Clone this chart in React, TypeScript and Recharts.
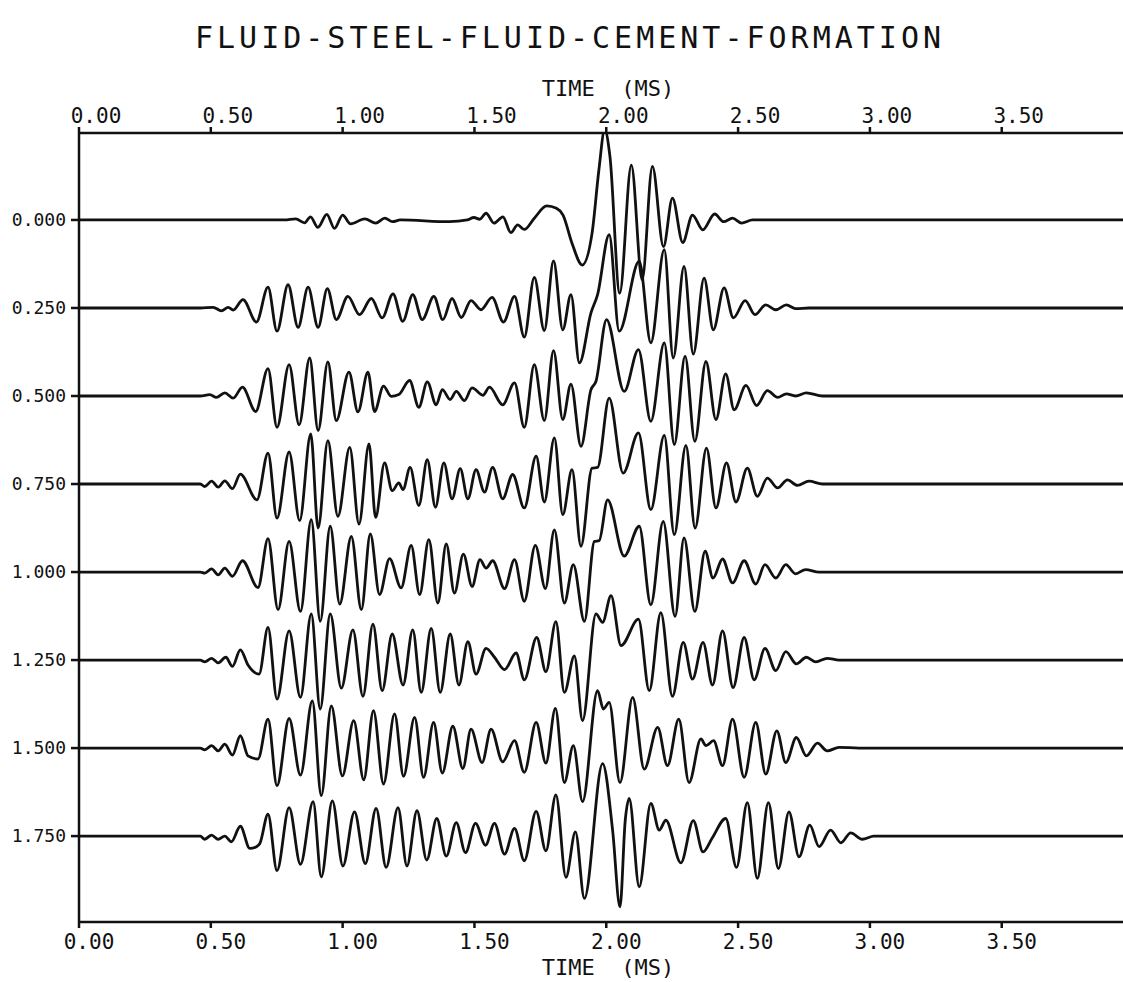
import React from "react";
import { LineChart, Line, XAxis, YAxis } from "recharts";

const MONO = "'DejaVu Sans Mono', 'Liberation Mono', monospace";
const INK = "#111";
const T_END = 3.96;

const xTicks = [0, 0.5, 1, 1.5, 2, 2.5, 3, 3.5];
const offsets = [0, 0.25, 0.5, 0.75, 1.0, 1.25, 1.5, 1.75];

// [time ms, upward displacement in axis units]
const trace0 = [
  [0.78, 0], [0.822, 0.003], [0.856, -0.008], [0.878, 0.009], [0.906, -0.021], [0.94, 0.016],
  [0.969, -0.024], [1.0, 0.014], [1.03, -0.011], [1.084, 0.003], [1.126, -0.009], [1.16, 0.005],
  [1.189, -0.005], [1.219, 0], [1.405, -0.005], [1.473, 0], [1.498, 0.007], [1.52, 0.002],
  [1.544, 0.019], [1.574, -0.009], [1.608, 0.009], [1.638, -0.036], [1.664, -0.014], [1.689, -0.027],
  [1.727, 0.005], [1.774, 0.04], [1.811, 0.033], [1.836, 0.014], [1.87, -0.066], [1.909, -0.128],
  [1.946, -0.038], [1.972, 0.142], [1.994, 0.256], [2.014, 0.18], [2.051, -0.208], [2.095, 0.156],
  [2.136, -0.17], [2.175, 0.152], [2.217, -0.076], [2.251, 0.062], [2.29, -0.064], [2.327, 0.014],
  [2.366, -0.028], [2.411, 0.017], [2.445, -0.005], [2.479, 0.005], [2.513, -0.009], [2.555, 0],
];

const trace1 = [
  [0.46, 0], [0.509, 0.002], [0.54, -0.008], [0.566, 0.002], [0.585, -0.006], [0.622, 0.024],
  [0.673, -0.04], [0.717, 0.059], [0.751, -0.066], [0.793, 0.066], [0.831, -0.055], [0.869, 0.059],
  [0.907, -0.055], [0.942, 0.055], [0.976, -0.033], [1.02, 0.033], [1.064, -0.019], [1.109, 0.027],
  [1.15, -0.028], [1.191, 0.04], [1.228, -0.038], [1.266, 0.038], [1.302, -0.033], [1.346, 0.033],
  [1.38, -0.033], [1.415, 0.027], [1.45, -0.027], [1.487, 0.021], [1.525, -0.005], [1.567, 0.03],
  [1.61, -0.04], [1.652, 0.033], [1.689, -0.083], [1.727, 0.087], [1.765, -0.064], [1.8, 0.134],
  [1.835, -0.062], [1.866, 0.038], [1.898, -0.156], [1.942, -0.014], [1.967, 0.038], [2.011, 0.208],
  [2.049, -0.066], [2.125, 0.133], [2.169, -0.099], [2.22, 0.166], [2.254, -0.142], [2.295, 0.118],
  [2.33, -0.131], [2.371, 0.085], [2.406, -0.062], [2.447, 0.057], [2.482, -0.028], [2.527, 0.021],
  [2.564, -0.019], [2.605, 0.009], [2.643, -0.005], [2.683, 0.009], [2.718, -0.002], [2.769, 0],
];

const trace2 = [
  [0.46, 0], [0.496, 0.004], [0.521, -0.004], [0.553, 0.009], [0.585, -0.006], [0.62, 0.025],
  [0.67, -0.044], [0.717, 0.078], [0.751, -0.089], [0.797, 0.089], [0.835, -0.082], [0.875, 0.108],
  [0.907, -0.098], [0.944, 0.097], [0.976, -0.07], [1.024, 0.068], [1.058, -0.045], [1.096, 0.068],
  [1.121, -0.044], [1.155, 0.028], [1.184, -0.001], [1.213, 0.004], [1.254, 0.044], [1.289, -0.032],
  [1.321, 0.04], [1.355, -0.025], [1.378, 0.018], [1.408, -0.01], [1.431, 0.013], [1.462, -0.013],
  [1.491, 0.023], [1.532, 0.002], [1.557, 0.025], [1.607, -0.025], [1.652, 0.037], [1.689, -0.089],
  [1.727, 0.089], [1.765, -0.07], [1.8, 0.129], [1.835, -0.067], [1.866, 0.034], [1.904, -0.143],
  [1.942, 0.018], [1.961, 0.042], [2.001, 0.217], [2.068, 0.013], [2.122, 0.132], [2.169, -0.072],
  [2.22, 0.151], [2.258, -0.138], [2.299, 0.113], [2.336, -0.129], [2.378, 0.098], [2.416, -0.067],
  [2.453, 0.063], [2.485, -0.039], [2.53, 0.03], [2.57, -0.027], [2.611, 0.015], [2.65, -0.004],
  [2.683, 0.006], [2.718, 0], [2.759, 0.009], [2.82, 0],
];

const trace3 = [
  [0.46, 0], [0.477, -0.007], [0.503, 0.008], [0.528, -0.009], [0.553, 0.009], [0.582, -0.013],
  [0.612, 0.028], [0.675, -0.045], [0.717, 0.088], [0.751, -0.097], [0.797, 0.091], [0.837, -0.104],
  [0.879, 0.142], [0.907, -0.125], [0.944, 0.123], [0.982, -0.092], [1.027, 0.104], [1.062, -0.114],
  [1.1, 0.114], [1.125, -0.095], [1.159, 0.06], [1.188, -0.019], [1.213, 0.003], [1.229, -0.016],
  [1.256, 0.047], [1.289, -0.061], [1.321, 0.069], [1.352, -0.066], [1.384, 0.06], [1.415, -0.042],
  [1.446, 0.044], [1.475, -0.042], [1.506, 0.041], [1.538, -0.023], [1.569, 0.047], [1.607, -0.042],
  [1.645, 0.027], [1.689, -0.068], [1.734, 0.079], [1.765, -0.051], [1.803, 0.131], [1.835, -0.087],
  [1.87, 0.041], [1.904, -0.177], [1.946, 0.045], [1.967, 0.047], [2.011, 0.244], [2.064, 0.031],
  [2.122, 0.145], [2.169, -0.073], [2.22, 0.138], [2.258, -0.144], [2.302, 0.11], [2.337, -0.125],
  [2.38, 0.102], [2.416, -0.068], [2.456, 0.06], [2.492, -0.051], [2.535, 0.045], [2.573, -0.035],
  [2.611, 0.017], [2.65, -0.011], [2.687, 0.012], [2.725, -0.004], [2.769, 0.008], [2.82, 0],
];

const trace4 = [
  [0.46, 0], [0.477, -0.003], [0.503, 0.009], [0.528, -0.008], [0.553, 0.011], [0.582, -0.012],
  [0.62, 0.032], [0.679, -0.044], [0.717, 0.095], [0.755, -0.107], [0.797, 0.087], [0.84, -0.112],
  [0.881, 0.149], [0.915, -0.14], [0.953, 0.13], [0.989, -0.091], [1.033, 0.101], [1.071, -0.107],
  [1.105, 0.108], [1.14, -0.064], [1.178, 0.038], [1.222, -0.045], [1.26, 0.076], [1.292, -0.064],
  [1.327, 0.092], [1.361, -0.088], [1.393, 0.08], [1.424, -0.06], [1.458, 0.051], [1.491, -0.041],
  [1.521, 0.035], [1.544, 0.011], [1.569, 0.032], [1.614, -0.047], [1.652, 0.035], [1.689, -0.083],
  [1.731, 0.076], [1.769, -0.047], [1.803, 0.12], [1.841, -0.088], [1.875, 0.021], [1.917, -0.14],
  [1.955, 0.087], [1.973, 0.089], [2.005, 0.205], [2.068, 0.045], [2.125, 0.13], [2.169, -0.093],
  [2.216, 0.144], [2.261, -0.126], [2.295, 0.097], [2.336, -0.112], [2.375, 0.059], [2.405, -0.017],
  [2.441, 0.037], [2.479, -0.031], [2.523, 0.032], [2.567, -0.034], [2.602, 0.021], [2.643, -0.017],
  [2.681, 0.021], [2.718, -0.005], [2.756, 0.007], [2.807, 0],
];

const trace5 = [
  [0.46, 0], [0.477, -0.005], [0.503, 0.005], [0.528, -0.008], [0.557, 0.008], [0.582, -0.018],
  [0.612, 0.029], [0.641, -0.014], [0.683, -0.04], [0.717, 0.093], [0.751, -0.111], [0.797, 0.083],
  [0.84, -0.106], [0.881, 0.131], [0.915, -0.139], [0.953, 0.131], [0.995, -0.08], [1.039, 0.086],
  [1.077, -0.103], [1.115, 0.102], [1.15, -0.087], [1.188, 0.074], [1.229, -0.071], [1.266, 0.086],
  [1.298, -0.092], [1.336, 0.09], [1.37, -0.092], [1.408, 0.074], [1.441, -0.071], [1.475, 0.052],
  [1.506, -0.04], [1.544, 0.033], [1.576, 0.008], [1.614, -0.027], [1.658, 0.02], [1.689, -0.056],
  [1.736, 0.064], [1.771, -0.033], [1.809, 0.109], [1.841, -0.092], [1.879, 0.012], [1.91, -0.172],
  [1.961, 0.131], [1.986, 0.107], [2.018, 0.183], [2.056, 0.041], [2.122, 0.116], [2.163, -0.087],
  [2.207, 0.135], [2.251, -0.103], [2.292, 0.05], [2.327, -0.054], [2.367, 0.05], [2.403, -0.071],
  [2.441, 0.083], [2.481, -0.078], [2.523, 0.064], [2.561, -0.056], [2.602, 0.033], [2.643, -0.03],
  [2.681, 0.024], [2.721, -0.011], [2.759, 0.008], [2.795, -0.005], [2.838, 0.005], [2.883, 0],
];

const trace6 = [
  [0.46, 0], [0.477, -0.005], [0.503, 0.007], [0.528, -0.008], [0.553, 0.011], [0.582, -0.02],
  [0.612, 0.035], [0.641, -0.022], [0.679, -0.031], [0.717, 0.082], [0.751, -0.107], [0.797, 0.084],
  [0.84, -0.077], [0.885, 0.134], [0.919, -0.135], [0.957, 0.12], [0.999, -0.079], [1.042, 0.078],
  [1.08, -0.09], [1.117, 0.106], [1.155, -0.102], [1.197, 0.097], [1.231, -0.08], [1.273, 0.087],
  [1.307, -0.083], [1.345, 0.073], [1.378, -0.071], [1.418, 0.062], [1.456, -0.058], [1.487, 0.054],
  [1.529, -0.041], [1.563, 0.054], [1.607, -0.039], [1.652, 0.021], [1.689, -0.069], [1.734, 0.073],
  [1.771, -0.043], [1.807, 0.113], [1.841, -0.098], [1.875, 0.007], [1.91, -0.152], [1.967, 0.163],
  [1.989, 0.111], [2.011, 0.13], [2.052, -0.098], [2.1, 0.144], [2.144, -0.06], [2.195, 0.059],
  [2.232, -0.05], [2.275, 0.082], [2.314, -0.098], [2.359, 0.026], [2.378, 0.007], [2.407, 0.021],
  [2.441, -0.05], [2.479, 0.082], [2.523, -0.083], [2.567, 0.073], [2.605, -0.074], [2.647, 0.049],
  [2.681, -0.041], [2.721, 0.03], [2.759, -0.022], [2.801, 0.014], [2.838, -0.008], [2.883, 0.002],
  [2.958, 0],
];

const trace7 = [
  [0.46, 0], [0.477, -0.009], [0.503, 0.003], [0.528, -0.009], [0.553, 0], [0.578, -0.016],
  [0.612, 0.028], [0.648, -0.035], [0.673, -0.03], [0.686, -0.021], [0.717, 0.062], [0.751, -0.098],
  [0.797, 0.081], [0.84, -0.08], [0.888, 0.098], [0.919, -0.116], [0.961, 0.1], [1.001, -0.085],
  [1.045, 0.069], [1.086, -0.078], [1.127, 0.079], [1.165, -0.089], [1.21, 0.081], [1.244, -0.085],
  [1.282, 0.072], [1.319, -0.068], [1.357, 0.05], [1.393, -0.057], [1.431, 0.038], [1.466, -0.047],
  [1.504, 0.036], [1.542, -0.026], [1.576, 0.036], [1.614, -0.051], [1.652, 0.022], [1.689, -0.07],
  [1.734, 0.07], [1.771, -0.042], [1.809, 0.117], [1.847, -0.117], [1.883, 0.012], [1.917, -0.177],
  [1.986, 0.206], [2.024, 0.017], [2.052, -0.201], [2.072, 0.045], [2.087, 0.107], [2.125, -0.144],
  [2.169, 0.093], [2.201, 0.017], [2.226, 0.045], [2.283, -0.076], [2.33, 0.044], [2.367, -0.045],
  [2.403, -0.004], [2.453, 0.05], [2.494, -0.089], [2.535, 0.095], [2.573, -0.12], [2.615, 0.095],
  [2.653, -0.092], [2.693, 0.069], [2.731, -0.059], [2.772, 0.031], [2.807, -0.03], [2.851, 0.017],
  [2.89, -0.019], [2.927, 0.009], [2.971, -0.009], [3.015, 0],
];

const traces = [trace0, trace1, trace2, trace3, trace4, trace5, trace6, trace7];

const series = traces.map((pts, i) => [
  { t: 0, y: offsets[i] },
  ...pts.map(([t, a]) => ({ t, y: offsets[i] - a })),
  { t: T_END, y: offsets[i] },
]);

function TopTick({ x, payload }: any) {
  return (
    <text x={x + 17} y={123} textAnchor="middle" fontSize={21} fontFamily={MONO} fill={INK}>
      {payload.value.toFixed(2)}
    </text>
  );
}

function BottomTick({ x, payload }: any) {
  return (
    <text x={x + 10} y={949} textAnchor="middle" fontSize={21} fontFamily={MONO} fill={INK}>
      {payload.value.toFixed(2)}
    </text>
  );
}

function LeftTick({ y, payload }: any) {
  return (
    <text x={66} y={y + 6} textAnchor="end" fontSize={18} fontFamily={MONO} fill={INK}>
      {payload.value.toFixed(3)}
    </text>
  );
}

export default function App() {
  return (
    <div style={{ position: "absolute", left: 0, top: 0, width: 1123, height: 982, background: "#fff" }}>
      <LineChart width={1123} height={982} margin={{ top: 103, right: 0, bottom: 30, left: 0 }}>
        <XAxis
          xAxisId="top"
          orientation="top"
          type="number"
          dataKey="t"
          domain={[0, T_END]}
          ticks={xTicks}
          allowDataOverflow
          height={30}
          tickSize={6}
          tick={<TopTick />}
          stroke={INK}
          strokeWidth={2.5}
        />
        <XAxis
          xAxisId="bottom"
          orientation="bottom"
          type="number"
          dataKey="t"
          domain={[0, T_END]}
          ticks={xTicks}
          allowDataOverflow
          height={30}
          tickSize={6}
          tick={<BottomTick />}
          stroke={INK}
          strokeWidth={2.5}
        />
        <YAxis
          type="number"
          domain={[-0.247, 1.994]}
          reversed
          ticks={offsets}
          allowDataOverflow
          width={79}
          tickSize={8}
          tick={<LeftTick />}
          stroke={INK}
          strokeWidth={2.5}
        />
        {series.map((d, i) => (
          <Line
            key={i}
            xAxisId={i === 0 ? "top" : "bottom"}
            data={d}
            dataKey="y"
            type="monotone"
            stroke={INK}
            strokeWidth={2.8}
            dot={false}
            isAnimationActive={false}
          />
        ))}
      </LineChart>
      <svg
        width={1123}
        height={982}
        style={{ position: "absolute", left: 0, top: 0, pointerEvents: "none" }}
      >
        <text x={570} y={48} textAnchor="middle" fontSize={30} letterSpacing={4} fontFamily={MONO} fill={INK}>
          FLUID-STEEL-FLUID-CEMENT-FORMATION
        </text>
        <text x={608} y={96} textAnchor="middle" fontSize={22} fontFamily={MONO} fill={INK} style={{ whiteSpace: "pre" }}>
          {"TIME  (MS)"}
        </text>
        <text x={608} y={975} textAnchor="middle" fontSize={22} fontFamily={MONO} fill={INK} style={{ whiteSpace: "pre" }}>
          {"TIME  (MS)"}
        </text>
      </svg>
    </div>
  );
}
